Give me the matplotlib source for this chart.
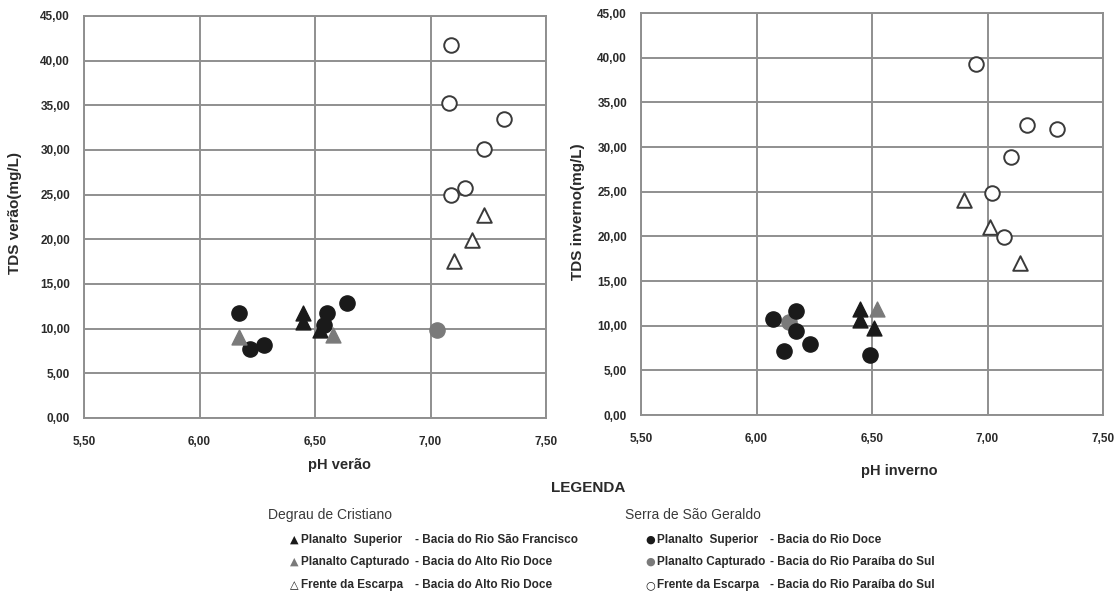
import matplotlib
matplotlib.use("Agg")
import matplotlib.pyplot as plt
from matplotlib.ticker import FuncFormatter

plt.rcParams['font.family'] = ['Liberation Sans', 'DejaVu Sans']

# ---- Summer (verão) ----
s_dc_ps_x = [6.45, 6.45, 6.52]
s_dc_ps_y = [11.8, 10.7, 9.8]
s_dc_pc_x = [6.17, 6.58]
s_dc_pc_y = [9.1, 9.3]
s_dc_fe_x = [7.10, 7.18, 7.23]
s_dc_fe_y = [17.6, 19.9, 22.7]
s_sg_ps_x = [6.17, 6.22, 6.28, 6.55, 6.54, 6.64]
s_sg_ps_y = [11.7, 7.7, 8.2, 11.8, 10.4, 12.9]
s_sg_pc_x = [7.03]
s_sg_pc_y = [9.8]
s_sg_fe_x = [7.09, 7.08, 7.32, 7.23, 7.15, 7.09]
s_sg_fe_y = [41.7, 35.3, 33.5, 30.1, 25.7, 25.0]

# ---- Winter (inverno) ----
w_dc_ps_x = [6.45, 6.45, 6.51]
w_dc_ps_y = [11.9, 10.6, 9.7]
w_dc_pc_x = [6.52]
w_dc_pc_y = [11.9]
w_dc_fe_x = [6.90, 7.01, 7.14]
w_dc_fe_y = [24.1, 21.1, 17.0]
w_sg_ps_x = [6.07, 6.17, 6.17, 6.12, 6.23, 6.49]
w_sg_ps_y = [10.8, 11.6, 9.4, 7.2, 7.9, 6.7]
w_sg_pc_x = [6.14]
w_sg_pc_y = [10.4]
w_sg_fe_x = [6.95, 7.17, 7.30, 7.10, 7.02, 7.07]
w_sg_fe_y = [39.3, 32.5, 32.0, 28.9, 24.8, 19.9]

x_ticks = [5.5, 6.0, 6.5, 7.0, 7.5]
y_ticks = [0, 5, 10, 15, 20, 25, 30, 35, 40, 45]

BLACK = '#1a1a1a'
GRAY = '#7a7a7a'
EDGE = '#3a3a3a'
GRID = '#8f8f8f'
TXT = '#2a2a2a'

fig = plt.figure(figsize=(11.16, 5.94), dpi=100)
fig.patch.set_facecolor('white')

comma = FuncFormatter(lambda v, p: f"{v:.2f}".replace('.', ','))


def draw(ax, d, ylabel, xlabel, ylab_pos, xlab_pos):
    (dc_ps_x, dc_ps_y, dc_pc_x, dc_pc_y, dc_fe_x, dc_fe_y,
     sg_ps_x, sg_ps_y, sg_pc_x, sg_pc_y, sg_fe_x, sg_fe_y) = d
    ax.set_xlim(5.5, 7.5)
    ax.set_ylim(0, 45)
    ax.set_xticks(x_ticks)
    ax.set_yticks(y_ticks)
    ax.xaxis.set_major_formatter(comma)
    ax.yaxis.set_major_formatter(comma)
    ax.grid(True, color=GRID, linewidth=1.4, zorder=0)
    ax.set_axisbelow(True)
    for s in ax.spines.values():
        s.set_color(GRID)
        s.set_linewidth(1.4)
    ax.tick_params(axis='y', length=0, labelsize=8.5, pad=10)
    ax.tick_params(axis='x', length=0, labelsize=8.5, pad=13)
    for lab in ax.get_xticklabels() + ax.get_yticklabels():
        lab.set_fontweight('bold')
        lab.set_color(TXT)
    ax.set_ylabel(ylabel, fontsize=11, fontweight='bold', color=TXT)
    ax.yaxis.set_label_coords(*ylab_pos)
    ax.set_xlabel(xlabel, fontsize=10.5, fontweight='bold', color=TXT)
    ax.xaxis.set_label_coords(*xlab_pos)
    ax.xaxis.label.set_va('center')
    ax.yaxis.label.set_va('center')

    ax.scatter(sg_pc_x, sg_pc_y, s=120, marker='o', color=GRAY, zorder=3)
    ax.scatter(dc_ps_x, dc_ps_y, s=115, marker='^', color=BLACK, zorder=3)
    ax.scatter(sg_ps_x, sg_ps_y, s=120, marker='o', color=BLACK, zorder=4)
    ax.scatter(dc_pc_x, dc_pc_y, s=115, marker='^', color=GRAY, zorder=5)
    ax.scatter(dc_fe_x, dc_fe_y, s=110, marker='^', facecolor='white',
               edgecolor=EDGE, linewidth=1.4, zorder=5)
    ax.scatter(sg_fe_x, sg_fe_y, s=110, marker='o', facecolor='white',
               edgecolor=EDGE, linewidth=1.4, zorder=5)


ax1 = fig.add_axes([84 / 1116, 1 - 418 / 594, 462 / 1116, 402 / 594])
draw(ax1, (s_dc_ps_x, s_dc_ps_y, s_dc_pc_x, s_dc_pc_y, s_dc_fe_x, s_dc_fe_y,
           s_sg_ps_x, s_sg_ps_y, s_sg_pc_x, s_sg_pc_y, s_sg_fe_x, s_sg_fe_y),
     'TDS verão(mg/L)', 'pH verão', (-0.149, 0.51), (0.554, -0.117))

ax2 = fig.add_axes([641 / 1116, 1 - 415 / 594, 462 / 1116, 402 / 594])
draw(ax2, (w_dc_ps_x, w_dc_ps_y, w_dc_pc_x, w_dc_pc_y, w_dc_fe_x, w_dc_fe_y,
           w_sg_ps_x, w_sg_ps_y, w_sg_pc_x, w_sg_pc_y, w_sg_fe_x, w_sg_fe_y),
     'TDS inverno(mg/L)', 'pH inverno', (-0.136, 0.505), (0.56, -0.14))

# ---- Legend ----
def fx(px):
    return px / 1116


def fy(py):
    return 1 - py / 594


fig.text(fx(588), fy(488), 'LEGENDA', ha='center', va='center',
         fontsize=11, fontweight='bold', color=TXT)
fig.text(fx(268), fy(515), 'Degrau de Cristiano', ha='left', va='center',
         fontsize=10, color='#3a3a3a')
fig.text(fx(625), fy(515), 'Serra de São Geraldo', ha='left', va='center',
         fontsize=10, color='#3a3a3a')

left_items = [
    ('▲', BLACK, 'Planalto  Superior', '- Bacia do Rio São Francisco'),
    ('▲', GRAY, 'Planalto Capturado', '- Bacia do Alto Rio Doce'),
    ('△', BLACK, 'Frente da Escarpa', '- Bacia do Alto Rio Doce'),
]
right_items = [
    ('●', BLACK, 'Planalto  Superior', '- Bacia do Rio Doce'),
    ('●', GRAY, 'Planalto Capturado', '- Bacia do Rio Paraíba do Sul'),
    ('○', BLACK, 'Frente da Escarpa', '- Bacia do Rio Paraíba do Sul'),
]
rows_y = [540, 562, 585]
for (sym, col, name, basin), yy in zip(left_items, rows_y):
    fig.text(fx(294), fy(yy), sym, ha='center', va='center', fontsize=8,
             color=col, family=['DejaVu Sans'])
    fig.text(fx(301), fy(yy), name, ha='left', va='center', fontsize=8.5,
             fontweight='bold', color=TXT)
    fig.text(fx(415), fy(yy), basin, ha='left', va='center', fontsize=8.5,
             fontweight='bold', color=TXT)
for (sym, col, name, basin), yy in zip(right_items, rows_y):
    fig.text(fx(650), fy(yy), sym, ha='center', va='center', fontsize=8,
             color=col, family=['DejaVu Sans'])
    fig.text(fx(657), fy(yy), name, ha='left', va='center', fontsize=8.5,
             fontweight='bold', color=TXT)
    fig.text(fx(770), fy(yy), basin, ha='left', va='center', fontsize=8.5,
             fontweight='bold', color=TXT)

fig.savefig('out.png', dpi=100)
